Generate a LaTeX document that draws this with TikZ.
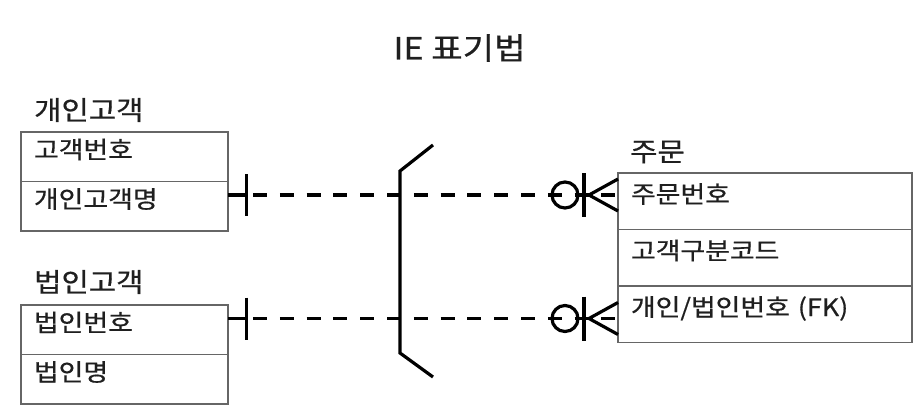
\documentclass[tikz,border=0pt]{standalone}
\usepackage{fontspec}
\setmainfont{Noto Sans CJK KR}[FakeStretch=1.12, FakeBold=0.6]
\usetikzlibrary{positioning}

% Marca "uno" en el extremo izquierdo de la relación
\newcommand{\uno}[1]{%
  \draw[rel] (#1) -- ++(18.5,0) ++(0,-21) -- ++(0,42);}
% Marca "cero o muchos" junto a la entidad derecha
\newcommand{\muchos}[1]{%
  \draw[rel] (#1) ++(-53,0) circle [radius=13];
  \draw[rel] (#1) ++(-34,-22) -- ++(0,44);
  \draw[rel] (#1) ++(0,-16) -- ++(-29,16) -- ++(29,16);}

\begin{document}
\begin{tikzpicture}[x=1pt,y=-1pt,
    fila/.style={draw=black!60, line width=1.8pt, anchor=north west, outer sep=0pt,
      inner xsep=13pt, inner ysep=0pt, align=left, text=black!88,
      font=\fontsize{24}{28}\selectfont, text height=0.75em, text depth=0.4em},
    filaizq/.style={fila, text width=181pt, minimum height=49.5pt},
    filader/.style={fila, text width=268pt, minimum height=56.5pt},
    entidad/.style={anchor=west, inner sep=0pt, text=black!88,
      font=\fontsize{26.5}{30}\selectfont},
    rel/.style={line width=3.2pt},
    raya/.style={rel, dash pattern=on 14pt off 12.8pt}]
  \useasboundingbox (0,0) rectangle (916,412);

  % Título
  \node[text=black!88, font=\fontsize{30.5}{34}\selectfont] (titulo) at (459.5,48) {IE 표기법};

  % Entidad 개인고객
  \node[entidad] (indv) at (34,110) {개인고객};
  \node[filaizq] (indvNo) at (21,132) {고객번호};
  \node[filaizq] (indvName) at (21,181.5) {개인고객명};

  % Entidad 법인고객
  \node[entidad] (corp) at (34,282) {법인고객};
  \node[filaizq] (corpNo) at (21,305) {법인번호};
  \node[filaizq] (corpName) at (21,354.5) {법인명};

  % Entidad 주문
  \node[entidad] (ord) at (630,152) {주문};
  \node[filader] (ordNo) at (618,173) {주문번호};
  \node[filader] (ordType) at (618,229.5) {고객구분코드};
  \node[filader] (ordFk) at (618,286) {개인/법인번호 (FK)};

  % Extremos de las dos relaciones
  \coordinate (fin1) at ([yshift=11.25pt]indvName.east);
  \coordinate (ini1) at (ordNo.west |- fin1);
  \coordinate (fin2) at ([yshift=11.25pt]corpNo.east);
  \coordinate (ini2) at (ordFk.west |- fin2);

  % Relaciones discontinuas
  \uno{fin1}
  \draw[raya] ([xshift=25pt]fin1) -- (ini1);
  \muchos{ini1}
  \uno{fin2}
  \draw[raya] ([xshift=25pt]fin2) -- (ini2);
  \muchos{ini2}

  % Corchete de exclusión
  \draw[rel] (433,145) -- (400,171) -- (400,353) -- (433,377);
\end{tikzpicture}
\end{document}
